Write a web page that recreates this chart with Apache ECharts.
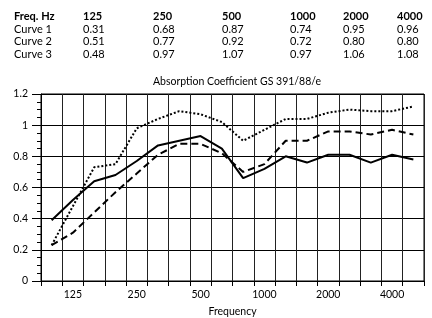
<!DOCTYPE html>
<html><head><meta charset="utf-8">
<script src="https://cdn.jsdelivr.net/npm/echarts@6/dist/echarts.min.js"></script>
<style>html,body{margin:0;padding:0;background:#fff}#c{width:432px;height:318px}</style>
</head><body><div id="c"></div>
<script>
// 1/3-octave band categories
const categories = ['100','125','160','200','250','315','400','500','630','800','1000','1250','1600','2000','2500','3150','4000','5000'];
const labelledFreqs = ['125','250','500','1000','2000','4000'];
// plotted curves
const curve1 = [0.23,0.31,0.44,0.57,0.69,0.81,0.88,0.88,0.82,0.70,0.75,0.90,0.90,0.96,0.96,0.94,0.97,0.94]; // dashed
const curve2 = [0.39,0.52,0.64,0.68,0.77,0.87,0.90,0.93,0.85,0.66,0.72,0.80,0.76,0.81,0.81,0.76,0.81,0.78]; // solid
const curve3 = [0.23,0.48,0.73,0.75,0.98,1.04,1.09,1.07,1.02,0.90,0.97,1.04,1.04,1.08,1.10,1.09,1.09,1.12]; // dotted
// table at the top
const tableFreqs = ['125','250','500','1000','2000','4000'];
const tableRowNames = ['Curve 1','Curve 2','Curve 3'];
const table1 = ['0.31','0.68','0.87','0.74','0.95','0.96'];
const table2 = ['0.51','0.77','0.92','0.72','0.80','0.80'];
const table3 = ['0.48','0.97','1.07','0.97','1.06','1.08'];
const yTicks = [0,0.2,0.4,0.6,0.8,1,1.2];

const FONT = 'Lato';
const colX = [83,153,222,290,343,397];
const rowY = [16,29,41.5,54];
const graphics = [];
function txt(x,y,t,bold){
  graphics.push({type:'text',x:x,y:y,style:{text:t,font:(bold?'bold ':'')+'11px '+FONT,fill:'#000',textAlign:'left',textVerticalAlign:'middle'}});
}
txt(14,rowY[0],'Freq. Hz',true);
tableFreqs.forEach((f,i)=>txt(colX[i],rowY[0],f,true));
[table1,table2,table3].forEach((row,r)=>{
  txt(14,rowY[r+1],tableRowNames[r],false);
  row.forEach((v,i)=>txt(colX[i],rowY[r+1],v,false));
});

const chart = echarts.init(document.getElementById('c'),null,{renderer:'canvas'});
chart.setOption({
  animation:false,
  backgroundColor:'#fff',
  title:{text:'Absorption Coefficient GS 391/88/e',left:232,top:71,textAlign:'center',
    textStyle:{fontFamily:FONT,fontSize:10.5,fontWeight:'normal',color:'#000'}},
  graphic:graphics,
  grid:{left:41,right:8,top:94,bottom:37,show:true,borderColor:'#000',borderWidth:1,outerBoundsMode:'none',containLabel:false},
  xAxis:{type:'category',data:categories,boundaryGap:true,
    name:'Frequency',nameLocation:'middle',nameGap:25,
    nameTextStyle:{fontFamily:FONT,fontSize:10.5,color:'#000'},
    axisLine:{lineStyle:{color:'#000',width:1}},
    axisTick:{show:true,interval:0,length:5,lineStyle:{color:'#000'}},
    axisLabel:{interval:(i,v)=>labelledFreqs.includes(v),fontFamily:FONT,fontSize:10.5,color:'#000',margin:8},
    splitLine:{show:true,interval:0,lineStyle:{color:'#222',width:1}}},
  yAxis:{type:'value',min:yTicks[0],max:yTicks[yTicks.length-1],interval:0.2,
    axisLine:{show:true,lineStyle:{color:'#000'}},
    axisTick:{show:true,length:9,lineStyle:{color:'#000'}},
    minorTick:{show:true,splitNumber:4,length:4,lineStyle:{color:'#000'}},
    axisLabel:{fontFamily:FONT,fontSize:10.5,color:'#000',margin:13},
    splitLine:{show:true,lineStyle:{color:'#000',width:1}}},
  series:[
    {name:'Curve 2',type:'line',data:curve2,symbol:'none',lineStyle:{color:'#000',width:2,type:'solid'}},
    {name:'Curve 1',type:'line',data:curve1,symbol:'none',lineStyle:{color:'#000',width:2,type:[7,4]}},
    {name:'Curve 3',type:'line',data:curve3,symbol:'none',lineStyle:{color:'#000',width:2,type:[2,2]}}
  ]
});
</script></body></html>
